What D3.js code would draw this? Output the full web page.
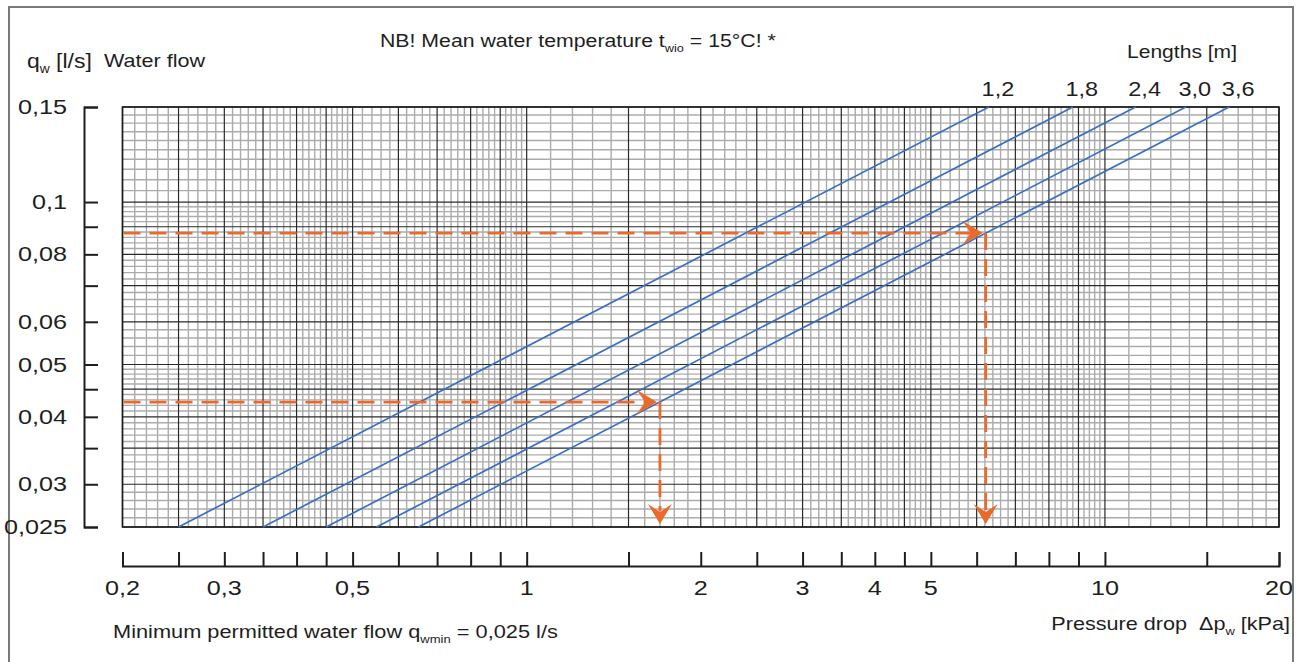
<!DOCTYPE html>
<html><head><meta charset="utf-8">
<script src="https://cdn.jsdelivr.net/npm/d3@7"></script>
<style>
html,body{margin:0;padding:0;background:#fff;}
svg{display:block;font-family:"Liberation Sans",Arial,Helvetica,sans-serif;}
</style></head>
<body>
<script>
// ---- data ----
const lengthLabels = ["1,2", "1,8", "2,4", "3,0", "3,6"];
const flowRange = [0.025, 0.15];            // l/s, ends of each curve
const dpAtMinFlow = [0.25, 0.35, 0.45, 0.55, 0.65];  // kPa at q = 0.025
const dpAtMaxFlow = [6.3, 8.8, 11.3, 13.8, 16.4];    // kPa at q = 0.15
const exampleFlow = [0.0876, 0.0426];       // l/s
const exampleDp = [6.22, 1.70];             // kPa
const xTicks = [0.2,0.25,0.3,0.35,0.4,0.45,0.5,0.6,0.7,0.8,0.9,1,1.5,2,2.5,3,3.5,4,4.5,5,6,7,8,9,10,15,20];
const xTickLabels = [[0.2,"0,2"],[0.3,"0,3"],[0.5,"0,5"],[1,"1"],[2,"2"],[3,"3"],[4,"4"],[5,"5"],[10,"10"],[20,"20"]];
const yTicks = [0.025,0.03,0.035,0.04,0.045,0.05,0.06,0.07,0.08,0.09,0.1,0.15];
const yTickLabels = [[0.025,"0,025"],[0.03,"0,03"],[0.04,"0,04"],[0.05,"0,05"],[0.06,"0,06"],[0.08,"0,08"],[0.1,"0,1"],[0.15,"0,15"]];

const W = 1303, H = 662;
const svg = d3.select("body").append("svg").attr("width", W).attr("height", H);

const x = d3.scaleLog().domain([0.2, 20]).range([122.5, 1279]);
const y = d3.scaleLog().domain([0.025, 0.15]).range([527, 107]);
const ink = "#1e1e1e";

// frame
svg.append("path").attr("d", `M9,${H} V7 H1293 V${H}`).attr("fill","none").attr("stroke","#7a7a7a").attr("stroke-width",2);

// minor grid
function minors(ticks, nFor) {
  const out = [];
  for (let i = 0; i < ticks.length - 1; i++) {
    const a = ticks[i], b = ticks[i+1], n = nFor(a, b);
    for (let k = 1; k < n; k++) out.push(a + (b - a) * k / n);
  }
  return out;
}
const xMin = minors(xTicks, () => 5);
const yMin = minors(yTicks, (a, b) => (b - a > 0.03 ? 10 : 5));
const g = svg.append("g");
g.selectAll("line.vx").data(xMin).join("line")
  .attr("x1", d => x(d)).attr("x2", d => x(d)).attr("y1", y(0.15)).attr("y2", y(0.025))
  .attr("stroke", "#ababab").attr("stroke-width", 1.4);
g.selectAll("line.hy").data(yMin).join("line")
  .attr("y1", d => y(d)).attr("y2", d => y(d)).attr("x1", x(0.2)).attr("x2", x(20))
  .attr("stroke", "#ababab").attr("stroke-width", 1.4);
// major grid
g.selectAll("line.VX").data(xTicks).join("line")
  .attr("x1", d => x(d)).attr("x2", d => x(d)).attr("y1", y(0.15)).attr("y2", y(0.025))
  .attr("stroke", "#2a2a2a").attr("stroke-width", 1.2);
g.selectAll("line.HY").data(yTicks).join("line")
  .attr("y1", d => y(d)).attr("y2", d => y(d)).attr("x1", x(0.2)).attr("x2", x(20))
  .attr("stroke", "#2a2a2a").attr("stroke-width", 1.2);
g.append("rect").attr("x", x(0.2)).attr("y", y(0.15)).attr("width", x(20)-x(0.2)).attr("height", y(0.025)-y(0.15))
  .attr("fill","none").attr("stroke", "#1a1a1a").attr("stroke-width", 1.6);

// text helper: horizontally stretched text anchored at (xp, yp)
function T(xp, yp, parts, size, sx, anchor) {
  const t = svg.append("g").attr("transform", `translate(${xp},${yp}) scale(${sx},1)`)
    .append("text").attr("x", 0).attr("y", 0).attr("font-size", size).attr("fill", ink)
    .attr("text-anchor", anchor || "start");
  if (typeof parts === "string") parts = [{t: parts}];
  parts.forEach(p => {
    if (p.sub) t.append("tspan").attr("font-size", size * 0.6).attr("dy", 5).text(p.t);
    else t.append("tspan").attr("dy", p.after ? -5 : 0).text(p.t);
  });
  return t;
}

// y axis
const yAxis = d3.axisRight(y).tickValues(yTicks).tickSize(14).tickFormat("");
const ya = svg.append("g").attr("transform", "translate(84,0)").call(yAxis);
ya.selectAll("path,line").attr("stroke", ink).attr("stroke-width", 2);
yTickLabels.forEach(d => T(67, y(d[0]) + 7, d[1], 21, 1.2, "end"));

// x axis
const xAxis = d3.axisTop(x).tickValues(xTicks).tickSize(14).tickSizeOuter(14).tickFormat("");
const xa = svg.append("g").attr("transform", "translate(0,566)").call(xAxis);
xa.selectAll("path,line").attr("stroke", ink).attr("stroke-width", 2);
xTickLabels.forEach(d => T(x(d[0]), 595, d[1], 21, 1.2, "middle"));

// curves
const line = d3.line().x(d => x(d[0])).y(d => y(d[1]));
lengthLabels.forEach((lab, i) => {
  svg.append("path").attr("d", line([[dpAtMinFlow[i], flowRange[0]], [dpAtMaxFlow[i], flowRange[1]]]))
    .attr("fill","none").attr("stroke","#3b6fc2").attr("stroke-width",1.7);
  T(x(dpAtMaxFlow[i]) + 9, 96, lab, 21, 1.12, "middle");
});

// example arrows
const orange = "#ea6a2c";
function arrowHead(tx, ty, dir) {
  const L = 20, Wd = 12, notch = 8;
  let pts;
  if (dir === "right") pts = [[tx,ty],[tx-L,ty-Wd],[tx-L+notch,ty],[tx-L,ty+Wd]];
  else pts = [[tx,ty],[tx-Wd,ty-L],[tx,ty-L+notch],[tx+Wd,ty-L]];
  svg.append("path").attr("d", "M" + pts.map(p => p.join(",")).join("L") + "Z").attr("fill", orange);
}
exampleFlow.forEach((q, i) => {
  const px = x(exampleDp[i]), py = y(q);
  svg.append("line").attr("x1", x(0.2)+1).attr("x2", px - 14).attr("y1", py).attr("y2", py)
    .attr("stroke", orange).attr("stroke-width", 2.8).attr("stroke-dasharray","17,9");
  arrowHead(px - 3, py, "right");
  svg.append("line").attr("x1", px).attr("x2", px).attr("y1", py).attr("y2", y(0.025) - 16)
    .attr("stroke", orange).attr("stroke-width", 2.8).attr("stroke-dasharray","17,9");
  arrowHead(px, y(0.025) - 3, "down");
});

// texts
T(380, 47, [{t:"NB! Mean water temperature t"},{t:"wio",sub:true},{t:" = 15°C! *",after:true}], 18.5, 1.15);
T(27, 68, [{t:"q"},{t:"w",sub:true},{t:"\u00a0[l/s]",after:true}], 20.5, 1.12);
T(104, 67, "Water flow", 18, 1.2);
T(1127, 58, "Lengths [m]", 18, 1.17);
T(1290, 630, [{t:"Pressure drop\u00a0\u00a0Δp"},{t:"w",sub:true},{t:" [kPa]",after:true}], 18, 1.2, "end");
T(113, 638, [{t:"Minimum permitted water flow q"},{t:"wmin",sub:true},{t:" = 0,025 l/s",after:true}], 18, 1.21);
</script>
</body></html>
